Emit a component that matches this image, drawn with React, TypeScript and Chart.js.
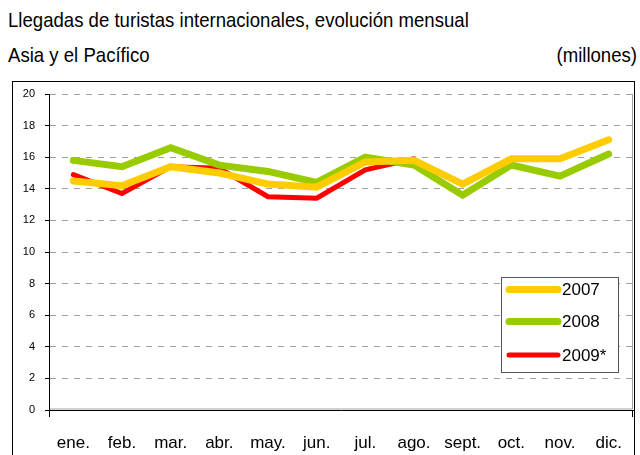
import React, { useEffect, useRef } from "react";
import { Chart, registerables } from "chart.js";

Chart.register(...registerables);

const months = ["ene.", "feb.", "mar.", "abr.", "may.", "jun.", "jul.", "ago.", "sept.", "oct.", "nov.", "dic."];
const series2007 = [14.5, 14.2, 15.4, 15.0, 14.3, 14.1, 15.7, 15.8, 14.3, 15.9, 15.9, 17.1];
const series2008 = [15.8, 15.4, 16.6, 15.5, 15.1, 14.4, 16.0, 15.5, 13.6, 15.5, 14.8, 16.2];
const series2009 = [14.9, 13.7, 15.4, 15.3, 13.5, 13.4, 15.2, 15.9];
const yTicks = [0, 2, 4, 6, 8, 10, 12, 14, 16, 18, 20];

const FONT = "'Liberation Sans', Arial, sans-serif";

const framePlugin = {
  id: "frame",
  beforeDraw(chart: any) {
    const ctx = chart.ctx;
    ctx.save();
    ctx.strokeStyle = "#000";
    ctx.lineWidth = 1;
    ctx.strokeRect(12.5, 81.5, 622, 420);
    const a = chart.chartArea;
    ctx.strokeStyle = "#a0a0a0";
    ctx.beginPath();
    ctx.moveTo(a.right - 0.5, a.top);
    ctx.lineTo(a.right - 0.5, a.bottom - 1);
    ctx.lineTo(a.left, a.bottom - 1);
    ctx.stroke();
    ctx.restore();
  },
  afterDraw(chart: any) {
    const ctx = chart.ctx;
    const a = chart.chartArea;
    ctx.save();
    ctx.strokeStyle = "#000";
    ctx.lineWidth = 1;
    ctx.beginPath();
    ctx.moveTo(a.left + 0.5, a.bottom);
    ctx.lineTo(a.left + 0.5, a.bottom + 7);
    ctx.moveTo(a.right - 0.5, a.bottom);
    ctx.lineTo(a.right - 0.5, a.bottom + 7);
    ctx.stroke();
    // legend
    const bx = 501, by = 277, bw = 117, bh = 95;
    ctx.fillStyle = "#fff";
    ctx.fillRect(bx, by, bw, bh);
    ctx.strokeStyle = "#555";
    ctx.strokeRect(bx + 0.5, by + 0.5, bw, bh);
    const ys = [289.5, 321.5, 355];
    chart.data.datasets.forEach((ds: any, i: number) => {
      ctx.strokeStyle = ds.borderColor;
      ctx.lineWidth = ds.borderWidth;
      ctx.lineCap = "round";
      ctx.beginPath();
      ctx.moveTo(509, ys[i]);
      ctx.lineTo(558, ys[i]);
      ctx.stroke();
      ctx.fillStyle = "#000";
      ctx.font = `17px ${FONT}`;
      ctx.textBaseline = "middle";
      ctx.textAlign = "left";
      ctx.fillText(ds.label, 562, ys[i] + 1);
    });
    ctx.restore();
  },
};

const titleStyle: React.CSSProperties = {
  position: "absolute",
  fontSize: 21,
  lineHeight: "24px",
  whiteSpace: "nowrap",
  color: "#000",
  transform: "scaleX(0.885)",
};

export default function App() {
  const ref = useRef<HTMLCanvasElement | null>(null);
  useEffect(() => {
    if (!ref.current) return;
    const chart = new Chart(ref.current, {
      type: "line",
      data: {
        labels: months,
        datasets: [
          { label: "2007", data: series2007, borderColor: "#FFCC00", borderWidth: 7, pointRadius: 0, borderCapStyle: "round", tension: 0 },
          { label: "2008", data: series2008, borderColor: "#99CC00", borderWidth: 7, pointRadius: 0, borderCapStyle: "round", tension: 0 },
          { label: "2009*", data: series2009, borderColor: "#FF0000", borderWidth: 5, pointRadius: 0, borderCapStyle: "round", tension: 0 },
        ],
      },
      options: {
        responsive: false,
        animation: false,
        layout: { padding: { left: 12, right: 7, top: 94, bottom: 0 } },
        plugins: { legend: { display: false }, tooltip: { enabled: false }, title: { display: false } },
        scales: {
          x: {
            offset: true,
            grid: { display: false },
            border: { display: true, color: "#000", width: 1 },
            ticks: { color: "#000", font: { family: FONT, size: 17 }, padding: 15, maxRotation: 0, autoSkip: false },
            afterFit: (s: any) => { s.height = 45; },
          },
          y: {
            min: 0,
            max: 20,
            afterBuildTicks: (s: any) => { s.ticks = yTicks.map((v) => ({ value: v })); },
            grid: { color: (c: any) => (c.tick && c.tick.value === 0 ? "rgba(0,0,0,0)" : "#a0a0a0"), tickLength: 4, tickColor: "#000", tickBorderDash: [] },
            border: { display: true, color: "#000", width: 1, dash: [6, 6] },
            ticks: { color: "#000", font: { family: FONT, size: 11 }, padding: 10 },
            afterFit: (s: any) => { s.width = 37; },
          },
        },
      },
      plugins: [framePlugin],
    });
    return () => chart.destroy();
  }, []);
  return (
    <div style={{ position: "absolute", left: 0, top: 0, width: 640, height: 455, background: "#fff", fontFamily: FONT }}>
      <div style={{ ...titleStyle, left: 8, top: 8, transformOrigin: "left center" }}>
        Llegadas de turistas internacionales, evolución mensual
      </div>
      <div style={{ ...titleStyle, left: 8, top: 43, transformOrigin: "left center" }}>
        Asia y el Pacífico
      </div>
      <div style={{ ...titleStyle, right: 3, top: 43, transformOrigin: "right center" }}>
        (millones)
      </div>
      <canvas ref={ref} width={640} height={455} style={{ position: "absolute", left: 0, top: 0 }} />
    </div>
  );
}
